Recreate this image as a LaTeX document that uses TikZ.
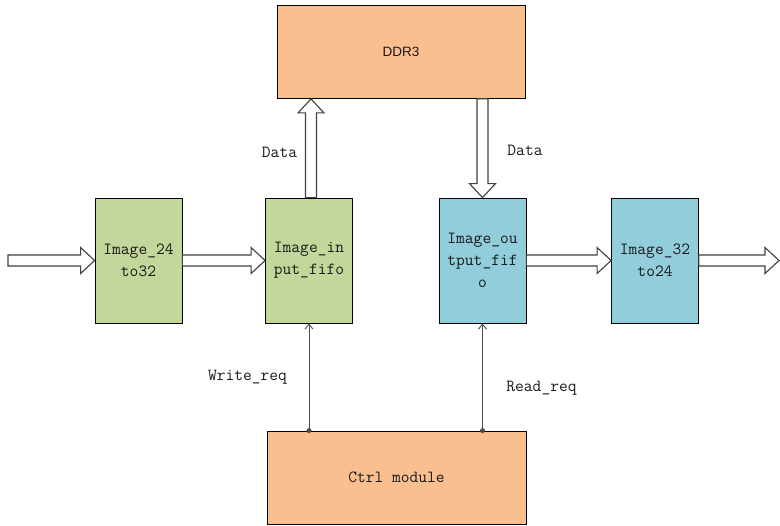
\documentclass[tikz,border=0pt]{standalone}
\usepackage{fontspec}
\usetikzlibrary{calc, arrows.meta}
\newfontfamily\ddrfont{Liberation Sans}
\definecolor{boxgreen}{RGB}{196,215,155}
\definecolor{boxblue}{RGB}{146,205,220}
\definecolor{boxorange}{RGB}{250,191,143}
\newcommand{\hollowarrow}[2]{%
  \coordinate (ha-h) at ($(#2)!14pt!(#1)$);
  \draw[hollow] ($(#1)!5.5pt!90:(#2)$) -- ($(ha-h)!5.5pt!90:(#2)$) -- ($(ha-h)!13pt!90:(#2)$) -- (#2)
    -- ($(ha-h)!13pt!-90:(#2)$) -- ($(ha-h)!5.5pt!-90:(#2)$) -- ($(#1)!5.5pt!-90:(#2)$) -- cycle;}

\begin{document}
\begin{tikzpicture}[x=1pt, y=-1pt,
  block/.style={draw=black, line width=0.8pt, align=center, inner sep=0pt, font={\ttfamily\fontsize{17}{22}\selectfont}, text=black!90},
  greenbox/.style={block, fill=boxgreen, minimum width=87pt, minimum height=125pt},
  bluebox/.style={block, fill=boxblue, minimum width=87pt, minimum height=125pt},
  orangebox/.style={block, fill=boxorange, minimum width=259pt, minimum height=93pt},
  hollow/.style={draw=black!75, line width=1.1pt, fill=white, line join=miter},
  req/.style={draw=black!70, line width=0.9pt, -{Straight Barb[length=5pt, width=8pt]}},
  lbl/.style={font={\ttfamily\fontsize{17}{20}\selectfont}, text=black!90}]
\useasboundingbox (0,0) rectangle (780,526);
\node[orangebox, minimum width=248pt, font={\ddrfont\fontsize{13.5}{16}\selectfont}] (ddr) at (401,52) {DDR3};
\node[greenbox] (conv24) at (138.5,260.5) {Image\_24\\to32};
\node[greenbox] (infifo) at (309,260.5) {Image\_in\\put\_fifo};
\node[bluebox] (outfifo) at (482.5,260.5) {Image\_ou\\tput\_fif\\o};
\node[bluebox] (conv32) at (655,260.5) {Image\_32\\to24};
\node[orangebox] (ctrl) at (396.5,477.5) {Ctrl module};
\coordinate (vin) at (8,260.5);
\coordinate (vout) at (779,260.5);
\coordinate (wrtop) at (infifo.north -| 311,0);
\coordinate (wrddr) at (wrtop |- ddr.south);
\coordinate (rdddr) at (outfifo.north |- ddr.south);
\coordinate (wrctrl) at (infifo.south |- ctrl.north);
\coordinate (rdctrl) at (outfifo.south |- ctrl.north);
\hollowarrow{vin}{conv24.west}
\hollowarrow{conv24.east}{infifo.west}
\hollowarrow{outfifo.east}{conv32.west}
\hollowarrow{conv32.east}{vout}
\hollowarrow{wrtop}{wrddr}
\hollowarrow{rdddr}{outfifo.north}
\node[lbl] (wdata) at (279.5,152) {Data};
\node[lbl] (rdata) at (525,150) {Data};
\draw[req] (wrctrl) -- (infifo.south);
\draw[req] (rdctrl) -- (outfifo.south);
\fill[black!70] (wrctrl) circle (2.5pt) (rdctrl) circle (2.5pt);
\node[lbl] (wreq) at (247.5,377) {Write\_req};
\node[lbl] (rreq) at (541.5,388) {Read\_req};
\end{tikzpicture}
\end{document}
